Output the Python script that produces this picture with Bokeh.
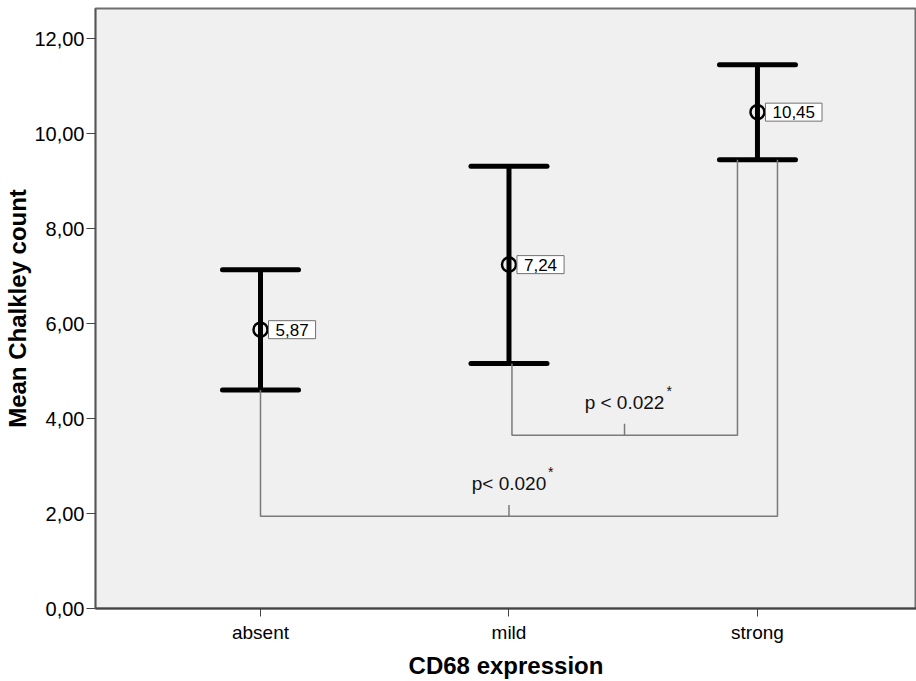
from bokeh.plotting import figure
from bokeh.models import Label, FixedTicker, Range1d
from bokeh.embed import file_html
from bokeh.resources import INLINE

# ---- data ----
categories = ["absent", "mild", "strong"]
means = [5.87, 7.24, 10.45]
ci_lower = [4.60, 5.16, 9.45]
ci_upper = [7.13, 9.31, 11.45]
mean_labels = ["5,87", "7,24", "10,45"]
y_ticks = [0, 2, 4, 6, 8, 10, 12]
y_tick_labels = ["0,00", "2,00", "4,00", "6,00", "8,00", "10,00", "12,00"]
cmp_from = ["mild", "absent"]
cmp_to = ["strong", "strong"]
cmp_level = [3.65, 1.94]
cmp_text = ["p < 0.022", "p< 0.020"]

# ---- figure ----
p = figure(width=916, height=681, output_backend="svg", toolbar_location=None,
           x_range=Range1d(-0.664, 2.640), y_range=Range1d(0, 12.632),
           min_border_left=95, min_border_right=0, min_border_top=8,
           min_border_bottom=73)
p.background_fill_color = "#f0f0f0"
p.border_fill_color = "white"
p.outline_line_color = "#6e6e6e"
p.outline_line_width = 2
p.xgrid.visible = False
p.ygrid.visible = False

xi = list(range(len(categories)))
pos = {c: i for i, c in enumerate(categories)}

# error bars
cap = 0.153
p.segment(x0=xi, y0=ci_lower, x1=xi, y1=ci_upper, line_color="black", line_width=5)
p.segment(x0=[x - cap for x in xi], y0=ci_lower, x1=[x + cap for x in xi], y1=ci_lower,
          line_color="black", line_width=5, line_cap="round")
p.segment(x0=[x - cap for x in xi], y0=ci_upper, x1=[x + cap for x in xi], y1=ci_upper,
          line_color="black", line_width=5, line_cap="round")

# comparison brackets
end_offsets = [(0.012, -0.0805), (0.0, 0.0805)]
tick_x = [1.465, 1.0]
for k in range(len(cmp_level)):
    a = pos[cmp_from[k]] + end_offsets[k][0]
    b = pos[cmp_to[k]] + end_offsets[k][1]
    lv = cmp_level[k]
    p.line(x=[a, a, b, b], y=[ci_lower[pos[cmp_from[k]]], lv, lv, ci_lower[pos[cmp_to[k]]]],
           line_color="#7a7a7a", line_width=1.5)
    p.segment(x0=[tick_x[k]], y0=[lv], x1=[tick_x[k]], y1=[lv + 0.24],
              line_color="#7a7a7a", line_width=1.5)
    p.add_layout(Label(x=tick_x[k], y=lv, text=cmp_text[k], y_offset=33,
                       text_align="center", text_baseline="middle",
                       text_font="Liberation Sans", text_font_size="19px",
                       text_color="#111111"))
    half_w = [41, 38][k]
    p.add_layout(Label(x=tick_x[k], y=lv, text="*", x_offset=half_w + 1, y_offset=44,
                       text_align="left", text_baseline="middle",
                       text_font="Liberation Sans", text_font_size="14px",
                       text_color="#111111"))

# means
p.scatter(x=xi, y=means, marker="circle", size=14, fill_color=None,
          line_color="black", line_width=2.5)
for i in xi:
    p.add_layout(Label(x=i, y=means[i], text=mean_labels[i], x_offset=8,
                       text_align="left", text_baseline="middle",
                       text_font="Liberation Sans", text_font_size="17px",
                       text_color="black", background_fill_color="white",
                       border_line_color="#707070", border_line_width=1,
                       padding=(7, 3)))

# axes
p.xaxis.ticker = FixedTicker(ticks=xi)
p.xaxis.major_label_overrides = {i: c for i, c in enumerate(categories)}
p.yaxis.ticker = FixedTicker(ticks=y_ticks)
p.yaxis.major_label_overrides = dict(zip(y_ticks, y_tick_labels))
for ax in (p.xaxis, p.yaxis):
    ax.minor_tick_line_color = None
    ax.major_tick_in = 0
    ax.major_tick_line_color = "#444444"
    ax.major_label_text_font = "Liberation Sans"
    ax.major_label_text_color = "black"
    ax.axis_label_text_font = "Liberation Sans"
    ax.axis_label_text_font_style = "bold"
    ax.axis_label_text_font_size = "24px"
    ax.axis_label_text_color = "black"
p.xaxis.axis_label = "CD68 expression"
p.yaxis.axis_label = "Mean Chalkley count"
p.xaxis.major_tick_out = 8
p.yaxis.major_tick_out = 9
p.xaxis.major_label_text_font_size = "19px"
p.yaxis.major_label_text_font_size = "20px"
p.xaxis.major_label_standoff = 5
p.yaxis.major_label_standoff = 2
p.xaxis.axis_label_standoff = 6
p.yaxis.axis_label_standoff = 0
p.xaxis.axis_line_color = "#444444"
p.xaxis.axis_line_width = 2
p.yaxis.axis_line_color = "#555555"
p.yaxis.axis_line_width = 1.5

open("out.html", "w").write(file_html(p, INLINE))
